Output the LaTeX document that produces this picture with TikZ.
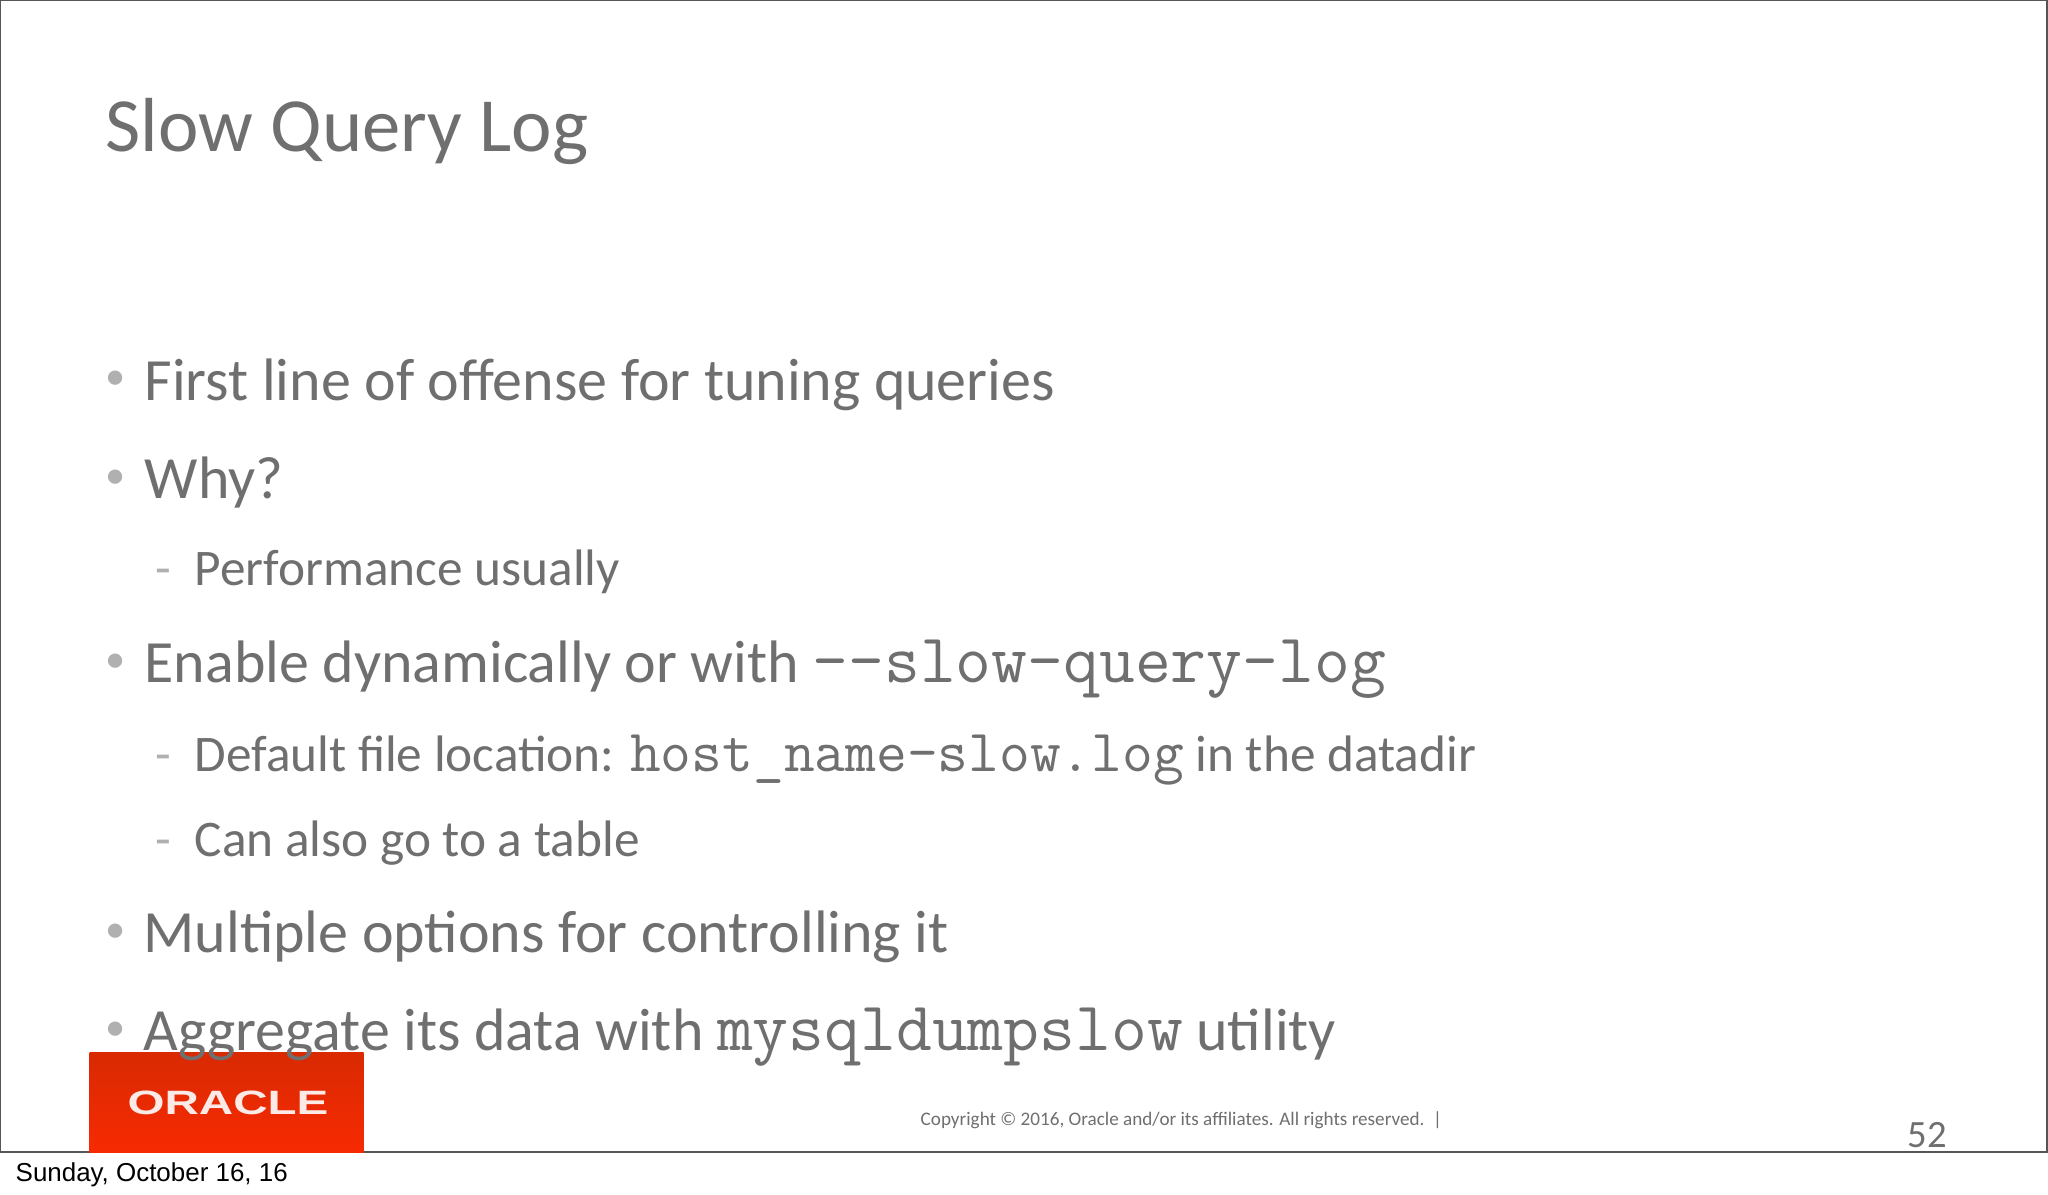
\documentclass[tikz,border=0pt]{standalone}
\usepackage{fontspec}
\setmainfont{Carlito}
\newfontfamily\datefont{Liberation Sans}
\usepackage{xcolor}
\definecolor{slidegray}{HTML}{6F6F6F}
\definecolor{bulletgray}{HTML}{B0B0B0}
\definecolor{framegray}{HTML}{555555}
\definecolor{logotop}{HTML}{D92A02}
\definecolor{logobottom}{HTML}{F72A02}
\tikzset{title/.style={anchor=base west, inner sep=0pt, text=slidegray, font=\fontsize{21.8}{26}\selectfont}}
\tikzset{body/.style={anchor=base west, inner sep=0pt, text=slidegray, font=\fontsize{17.05}{21}\selectfont}}
\tikzset{subbody/.style={anchor=base west, inner sep=0pt, text=slidegray, font=\fontsize{14.6}{18}\selectfont}}
\tikzset{bulletmark/.style={anchor=base west, inner sep=0pt, text=bulletgray, font=\fontsize{11.5}{14}\selectfont}}
\tikzset{dashmark/.style={anchor=base west, inner sep=0pt, text=bulletgray, font=\fontsize{14.6}{18}\selectfont}}
\tikzset{logobox/.style={anchor=north west, inner sep=0pt, minimum width=2.74cm, minimum height=1cm, top color=logotop, bottom color=logobottom}}

\newcommand{\bodymono}[1]{{\fontsize{19.8}{22}\selectfont\texttt{#1}}}
\newcommand{\submono}[1]{{\fontsize{17}{20}\selectfont\texttt{#1}}}

\begin{document}
\begin{tikzpicture}
    \useasboundingbox (0,0) rectangle (20.48,-11.95);
    \fill[white] (0,0) rectangle (20.48,-11.95);
    \draw[framegray, line width=0.5pt] (0,0) rectangle (20.47,-11.52);
    \draw[framegray, line width=0.8pt] (0,-11.52) -- (20.48,-11.52);
    \node[logobox] at (0.89,-10.52) (logo) {};
    \node[inner sep=0pt, text=white!90!logotop, font=\datefont\bfseries\fontsize{9.6}{11}\selectfont] at (2.28,-11.03) (oracle) {\scalebox{1.41}[1]{ORACLE}};

    \node[title] at (1.05,-1.51) (heading) {Slow Query Log};

    \node[bulletmark] at (1.05,-3.90) (bulletA) {•};
    \node[body] at (1.44,-4.00) (first) {First line of offense for tuning queries};
    \node[bulletmark] at (1.05,-4.88) (bulletB) {•};
    \node[body] at (1.44,-4.98) (why) {Why?};
    \node[dashmark] at (1.55,-5.85) (dashA) {-};
    \node[subbody] at (1.94,-5.85) (perf) {Performance usually};
    \node[bulletmark] at (1.05,-6.72) (bulletC) {•};
    \node[body] at (1.44,-6.82) (enable) {Enable dynamically or with \bodymono{-{}-slow-query-log}};
    \node[dashmark] at (1.55,-7.71) (dashB) {-};
    \node[subbody] at (1.94,-7.71) (location) {Default file location: \submono{host\_name-slow.log} in the datadir};
    \node[dashmark] at (1.55,-8.56) (dashC) {-};
    \node[subbody] at (1.94,-8.56) (table) {Can also go to a table};
    \node[bulletmark] at (1.05,-9.42) (bulletD) {•};
    \node[body] at (1.43,-9.52) (options) {Multiple options for controlling it};
    \node[bulletmark] at (1.05,-10.40) (bulletE) {•};
    \node[body] at (1.43,-10.50) (aggregate) {Aggregate its data with \bodymono{mysqldumpslow} utility};

    \node[anchor=base west, inner sep=0pt, text=slidegray, font=\fontsize{5.45}{6.5}\selectfont] at (9.20,-11.25) (copyright) {Copyright © 2016, Oracle and/or its affiliates. All rights reserved.\ \ |};
    \node[anchor=base west, inner sep=0pt, text=slidegray, font=\fontsize{11}{13}\selectfont] at (19.07,-11.47) (pagenum) {52};
    \node[anchor=base west, inner sep=0pt, text=black, font=\datefont\fontsize{7.38}{9}\selectfont] at (0.15,-11.81) (date) {Sunday, October 16, 16};
\end{tikzpicture}
\end{document}
